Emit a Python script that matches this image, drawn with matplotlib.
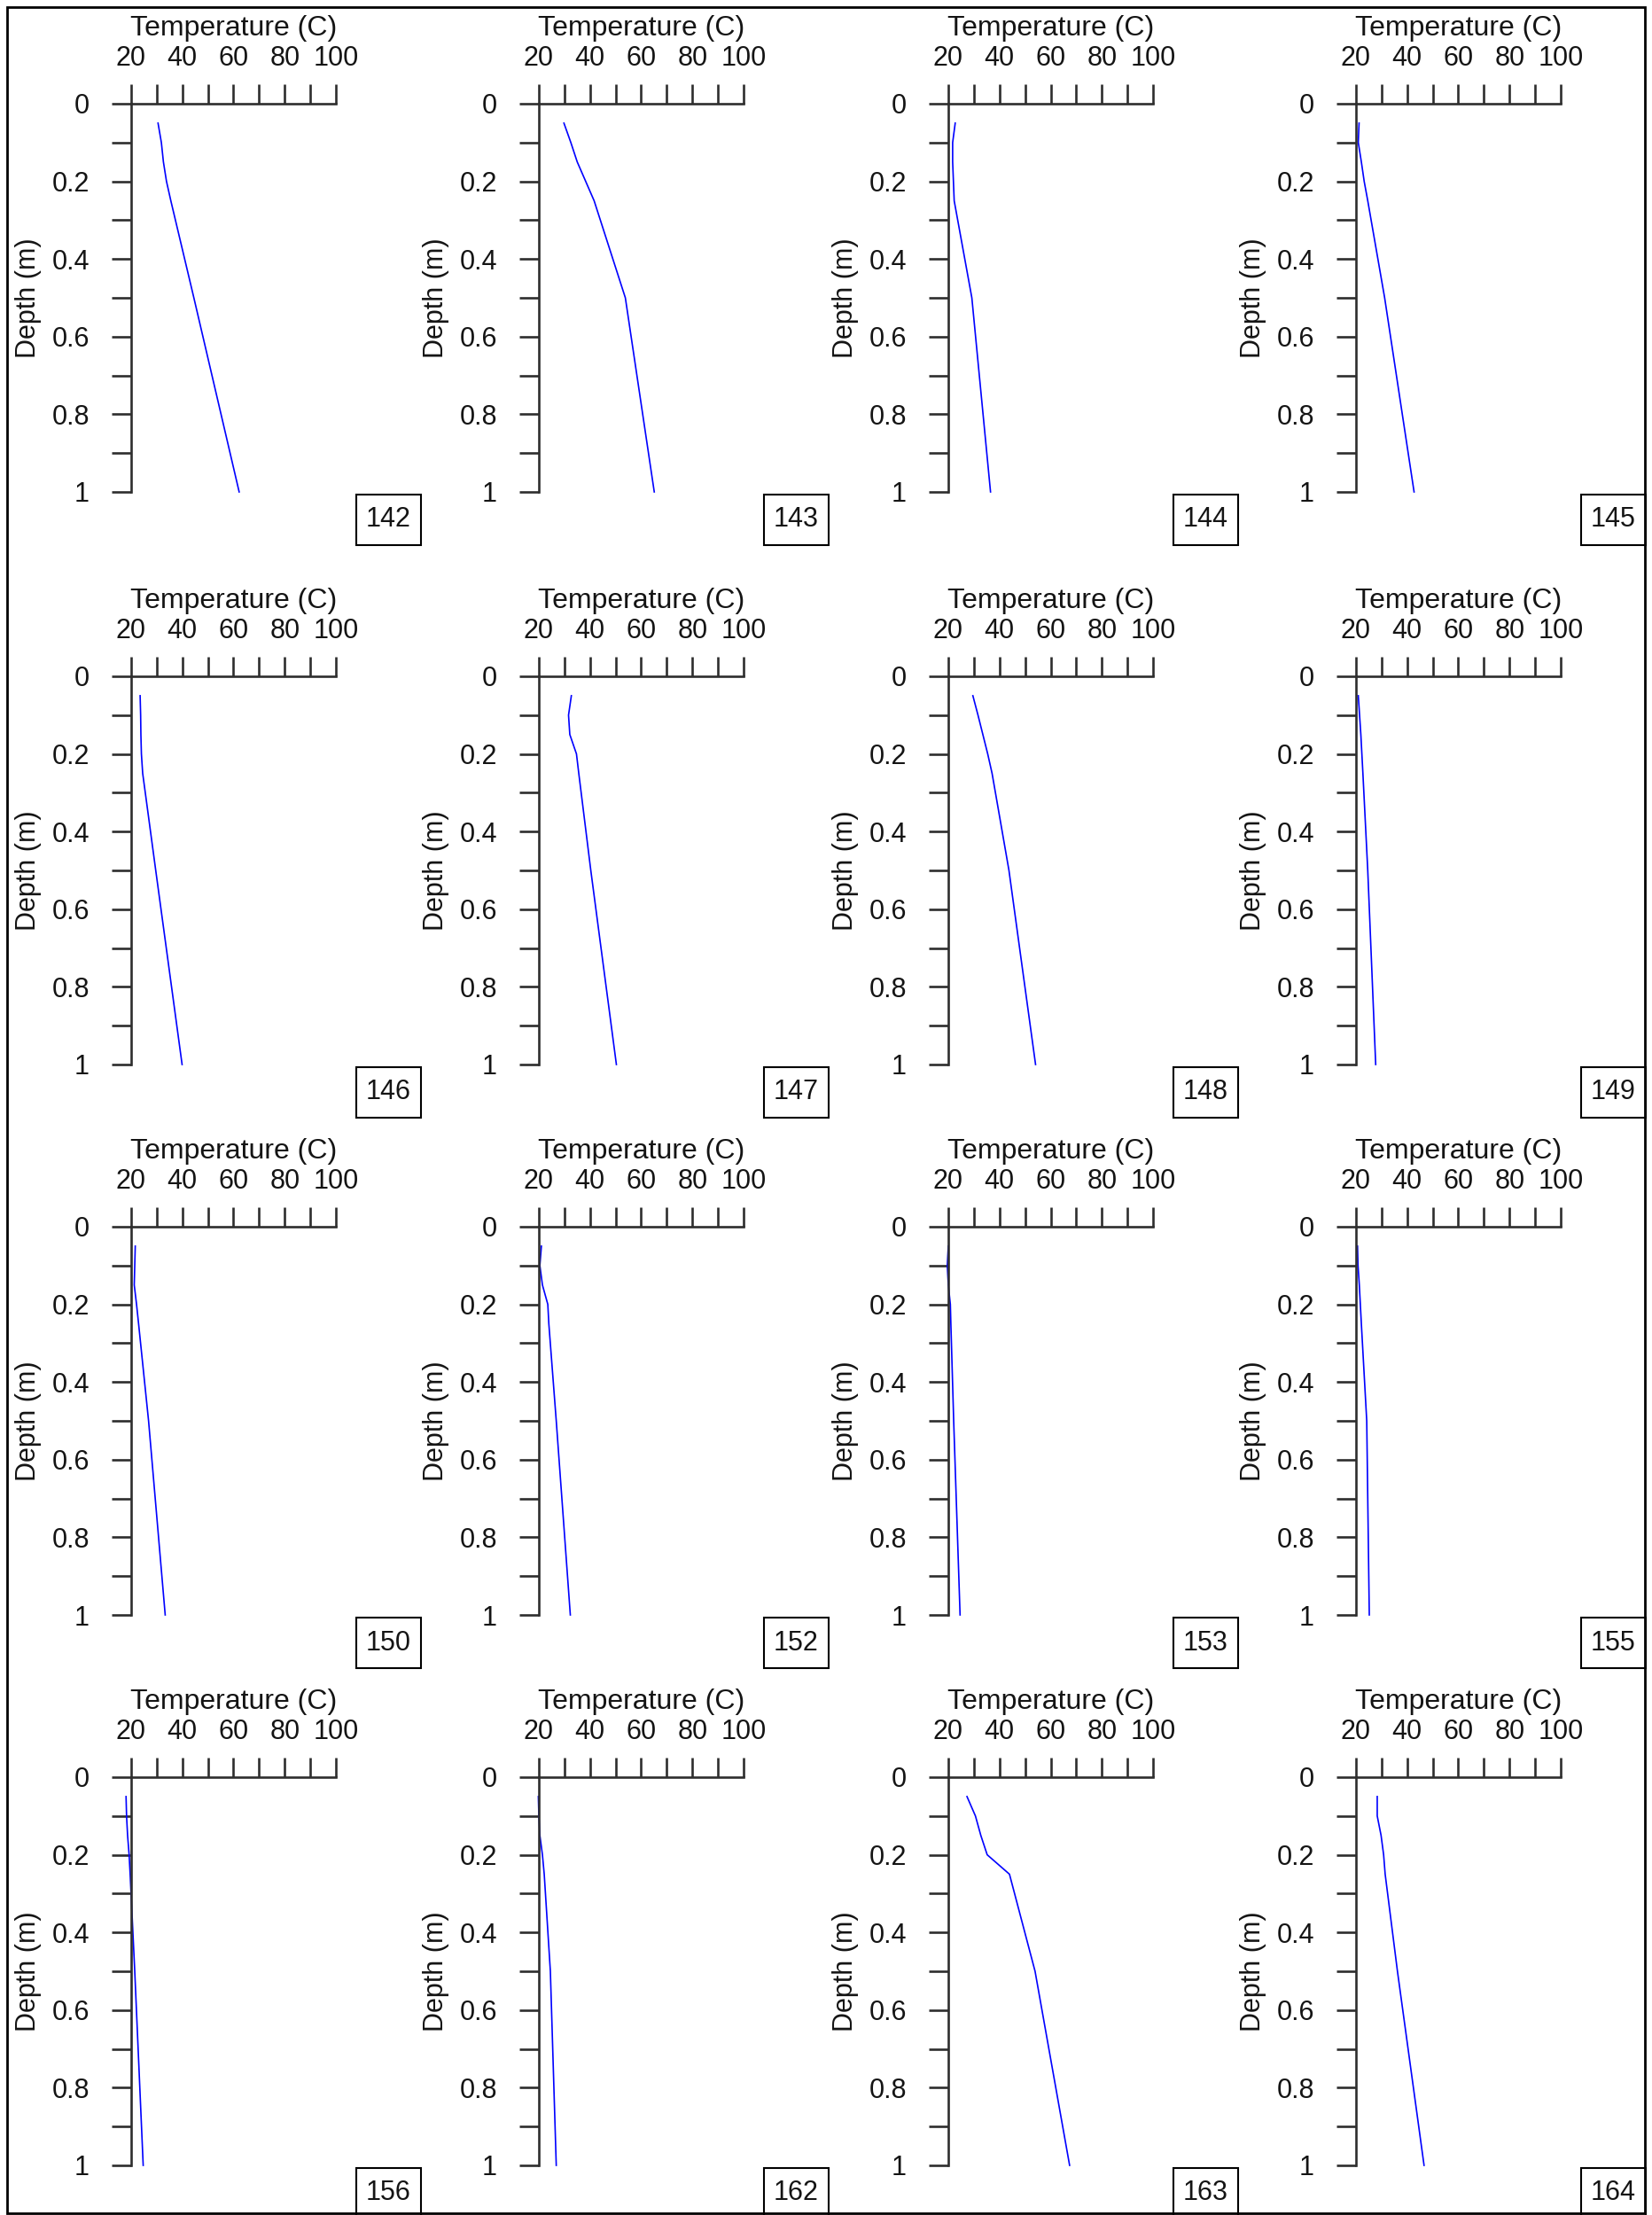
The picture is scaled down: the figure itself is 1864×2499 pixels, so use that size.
import matplotlib
matplotlib.use('Agg')
import matplotlib.pyplot as plt
from matplotlib.patches import Rectangle
from matplotlib.ticker import MultipleLocator, FuncFormatter

plt.rcParams['font.family'] = ['Liberation Sans', 'DejaVu Sans']

# depths of the thermocouples (m)
depths = [0.05, 0.1, 0.15, 0.2, 0.25, 0.5, 1.0]

# temperature profiles (C)
t142 = [30.5, 31.8, 32.6, 33.8, 35.5, 44.5, 62.2]
t143 = [29.8, 32.5, 35.0, 38.3, 41.6, 53.8, 65.1]
t144 = [22.7, 21.7, 21.7, 22.0, 22.3, 29.2, 36.5]
t145 = [21.2, 20.9, 22.1, 23.2, 24.6, 31.2, 42.7]
t146 = [23.5, 23.7, 23.8, 24.0, 24.5, 29.6, 39.9]
t147 = [32.7, 31.6, 32.1, 34.7, 35.6, 40.3, 50.3]
t148 = [29.6, 31.6, 33.5, 35.4, 37.1, 43.7, 54.1]
t149 = [20.9, 21.4, 21.9, 22.3, 22.7, 24.6, 27.7]
t150 = [21.6, 21.4, 21.2, 22.1, 22.9, 26.8, 33.3]
t152 = [21.0, 20.4, 21.4, 23.5, 23.9, 26.8, 32.3]
t153 = [20.0, 19.6, 20.0, 20.8, 21.0, 22.1, 24.6]
t155 = [20.6, 20.8, 21.3, 21.7, 22.1, 24.2, 25.2]
t156 = [18.0, 18.2, 18.6, 19.2, 19.6, 21.4, 24.7]
t162 = [19.8, 20.0, 20.4, 21.4, 22.1, 24.5, 26.8]
t163 = [27.3, 30.6, 32.7, 35.2, 43.9, 53.9, 67.4]
t164 = [28.3, 28.3, 29.8, 30.8, 31.4, 36.2, 46.6]

probe_ids = ['142', '143', '144', '145', '146', '147', '148', '149',
             '150', '152', '153', '155', '156', '162', '163', '164']
profiles = [t142, t143, t144, t145, t146, t147, t148, t149,
            t150, t152, t153, t155, t156, t162, t163, t164]

W, H = 1865, 2499
fig = plt.figure(figsize=(W / 100, H / 100), dpi=100)

# pixel layout of the 4x4 grid
col_x = [148, 608, 1070, 1530]
row_top = [117, 763, 1384, 2005]
ax_w, ax_h = 231, 438
axc = '#2e2e2e'
txt = '#141414'
fs = 22

for i, (pid, temps) in enumerate(zip(probe_ids, profiles)):
    r, c = divmod(i, 4)
    ax = fig.add_axes([col_x[c] / W, 1 - (row_top[r] + ax_h) / H, ax_w / W, ax_h / H])
    ax.patch.set_alpha(0)
    ax.plot(temps, depths, color='#0000ff', lw=1.2, clip_on=False)
    ax.set_xlim(20, 100)
    ax.set_ylim(1, 0)

    ax.spines['right'].set_visible(False)
    ax.spines['bottom'].set_visible(False)
    for s in ['top', 'left']:
        ax.spines[s].set_linewidth(1.9)
        ax.spines[s].set_color(axc)

    ax.xaxis.tick_top()
    ax.xaxis.set_major_locator(MultipleLocator(20))
    ax.xaxis.set_minor_locator(MultipleLocator(10))
    ax.yaxis.set_major_locator(MultipleLocator(0.2))
    ax.yaxis.set_minor_locator(MultipleLocator(0.1))
    ax.yaxis.set_major_formatter(FuncFormatter(lambda v, p: f'{v:g}'))

    ax.tick_params(which='both', direction='out', length=16, width=1.9, color=axc,
                   labelcolor=txt, labelsize=fs)
    ax.tick_params(axis='x', which='both', top=True, bottom=False,
                   labeltop=True, labelbottom=False, pad=10)
    ax.tick_params(axis='y', which='both', pad=18)

    ax.xaxis.set_label_position('top')
    ax.set_xlabel('Temperature (C)', fontsize=23, color=txt, labelpad=8)
    ax.set_ylabel('Depth (m)', fontsize=fs, color=txt, labelpad=8)

    # probe id box at the lower right
    bx, bw, by, bh = 254, 73, -60, 57
    ax.add_patch(Rectangle((bx / ax_w, by / ax_h), bw / ax_w, bh / ax_h,
                           transform=ax.transAxes, facecolor='white',
                           edgecolor='black', lw=1.5, clip_on=False))
    ax.text((bx + bw / 2) / ax_w, (by + bh / 2) / ax_h, pid, transform=ax.transAxes,
            ha='center', va='center', fontsize=fs, color=txt)

# outer frame
fig.add_artist(Rectangle((8 / W, 1 - 2497 / H), (1856 - 8) / W, (2497 - 8) / H,
                         transform=fig.transFigure, fill=False, edgecolor='black', lw=2))

fig.savefig('out.png', dpi=100)
